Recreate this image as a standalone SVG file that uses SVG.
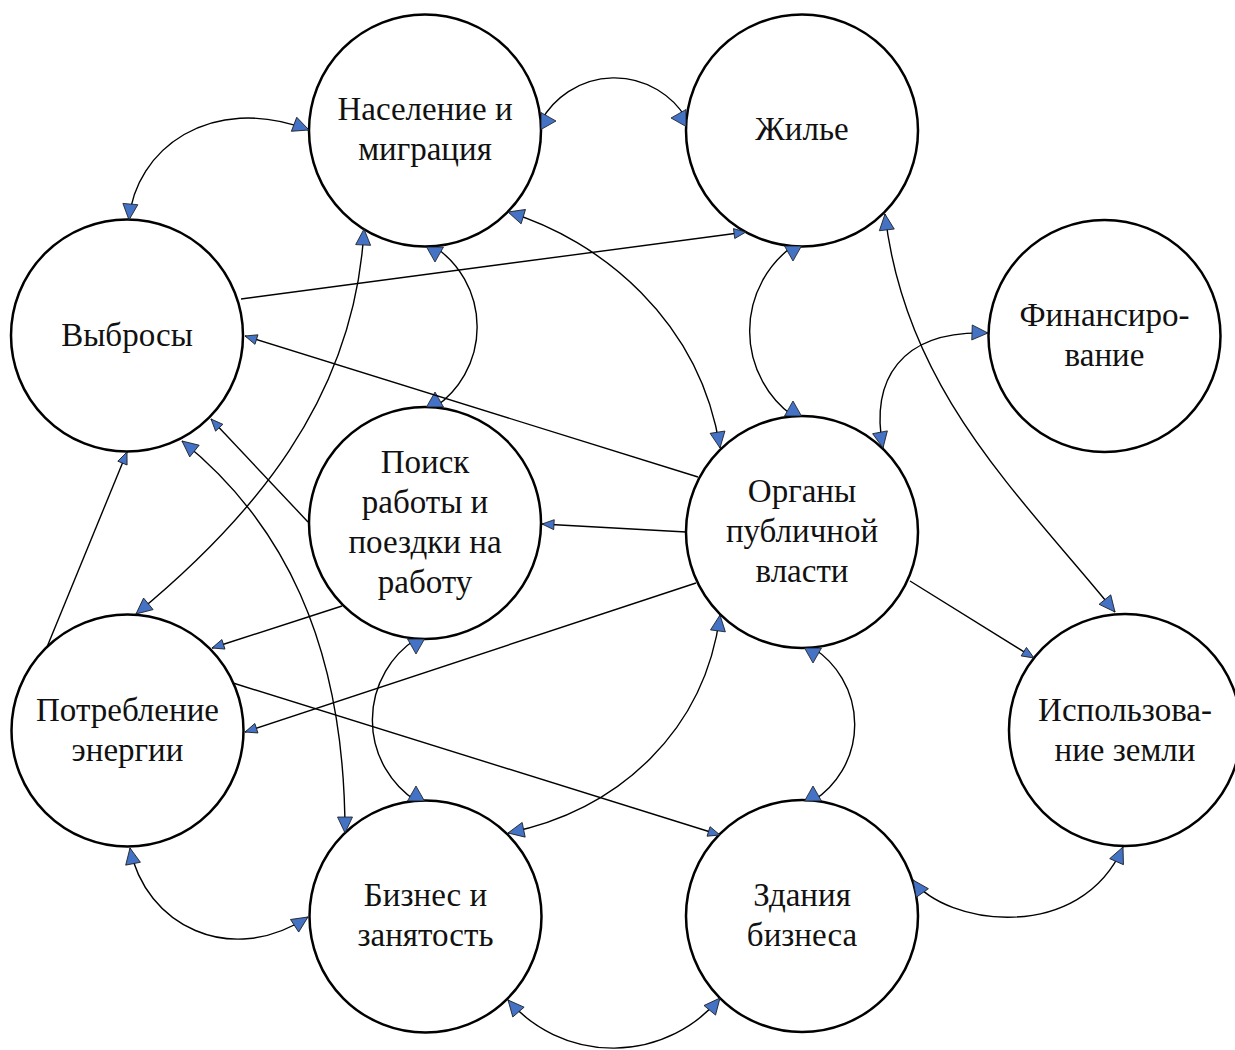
<svg xmlns="http://www.w3.org/2000/svg" width="1235" height="1050" viewBox="0 0 1235 1050">
<defs>
<style>
.node{fill:#fff;stroke:#000;stroke-width:2.5}
.lbl{font-family:"Liberation Serif","Times New Roman",serif;font-size:33px;fill:#111;text-anchor:middle}
.c{fill:none;stroke:#000;stroke-width:1.4}
.big{marker-start:url(#ab);marker-end:url(#ab)}
.sm{marker-end:url(#as)}
.h{marker-start:url(#rR);marker-end:url(#rL)}
.v{marker-start:url(#rD);marker-end:url(#rU)}
.ah{fill:#4472C4;stroke:#1a1a1a;stroke-width:0.8}
</style>
<marker id="ab" markerUnits="userSpaceOnUse" viewBox="0 0 16 15" markerWidth="16" markerHeight="15" refX="16" refY="7.5" orient="auto-start-reverse" overflow="visible"><path class="ah" d="M0,0 L16,7.5 L0,15 z"/></marker>
<marker id="as" markerUnits="userSpaceOnUse" viewBox="0 0 12 10" markerWidth="12" markerHeight="10" refX="12" refY="5" orient="auto" overflow="visible"><path class="ah" d="M0,0 L12,5 L0,10 z"/></marker>
<marker id="rR" markerUnits="userSpaceOnUse" viewBox="0 0 15 17" markerWidth="15" markerHeight="17" refX="0" refY="8.5" orient="0" overflow="visible"><path class="ah" d="M0,0 L15,8.5 L0,17 z"/></marker>
<marker id="rL" markerUnits="userSpaceOnUse" viewBox="0 0 15 17" markerWidth="15" markerHeight="17" refX="0" refY="8.5" orient="180" overflow="visible"><path class="ah" d="M0,0 L15,8.5 L0,17 z"/></marker>
<marker id="rD" markerUnits="userSpaceOnUse" viewBox="0 0 15 17" markerWidth="15" markerHeight="17" refX="0" refY="8.5" orient="90" overflow="visible"><path class="ah" d="M0,0 L15,8.5 L0,17 z"/></marker>
<marker id="rU" markerUnits="userSpaceOnUse" viewBox="0 0 15 17" markerWidth="15" markerHeight="17" refX="0" refY="8.5" orient="270" overflow="visible"><path class="ah" d="M0,0 L15,8.5 L0,17 z"/></marker>
</defs>
<rect width="1235" height="1050" fill="#fff"/>
<g id="node-naselenie"><circle class="node" cx="425" cy="130.5" r="116"/><text class="lbl" x="425" y="120">Население и</text><text class="lbl" x="425" y="160">миграция</text></g>
<g id="node-zhilie"><circle class="node" cx="802" cy="130.5" r="116"/><text class="lbl" x="802" y="140">Жилье</text></g>
<g id="node-vybrosy"><circle class="node" cx="127" cy="335.5" r="116"/><text class="lbl" x="127" y="346">Выбросы</text></g>
<g id="node-finansirovanie"><circle class="node" cx="1104.5" cy="336" r="116"/><text class="lbl" x="1104.5" y="326">Финансиро-</text><text class="lbl" x="1104.5" y="366">вание</text></g>
<g id="node-poisk"><circle class="node" cx="425" cy="523" r="116"/><text class="lbl" x="425" y="473">Поиск</text><text class="lbl" x="425" y="513">работы и</text><text class="lbl" x="425" y="553">поездки на</text><text class="lbl" x="425" y="593">работу</text></g>
<g id="node-organy"><circle class="node" cx="802" cy="532" r="116"/><text class="lbl" x="802" y="502">Органы</text><text class="lbl" x="802" y="542">публичной</text><text class="lbl" x="802" y="582">власти</text></g>
<g id="node-potreblenie"><circle class="node" cx="127.5" cy="730.5" r="116"/><text class="lbl" x="127.5" y="721">Потребление</text><text class="lbl" x="127.5" y="761">энергии</text></g>
<g id="node-zemlya"><circle class="node" cx="1125" cy="730" r="116"/><text class="lbl" x="1125" y="721">Использова-</text><text class="lbl" x="1125" y="761">ние земли</text></g>
<g id="node-biznes"><circle class="node" cx="425.5" cy="916.5" r="116"/><text class="lbl" x="425.5" y="906">Бизнес и</text><text class="lbl" x="425.5" y="946">занятость</text></g>
<g id="node-zdaniya"><circle class="node" cx="802" cy="916" r="116"/><text class="lbl" x="802" y="906">Здания</text><text class="lbl" x="802" y="946">бизнеса</text></g>
<g id="connectors">
<path class="c big" d="M129,220 C135,150 210,92 309,130"/>
<path class="c h" d="M541,121 A84,84 0 0 1 686,118"/>
<path class="c sm" d="M241,299 L746,232"/>
<path class="c big" d="M508,212 C600,240 700,320 720,448"/>
<path class="c v" d="M435,247 A97,97 0 0 1 435,407"/>
<path class="c big" d="M364,229 C355,400 250,520 136,614"/>
<path class="c sm" d="M698,477 L245,336"/>
<path class="c v" d="M793,246 A105,105 0 0 0 793,416"/>
<path class="c big" d="M883,448 C870,380 900,330 988,333"/>
<path class="c big" d="M885,214 C905,390 1020,495 1115,612"/>
<path class="c sm" d="M686,532 L542,524"/>
<path class="c sm" d="M308,522 L211,419"/>
<path class="c big" d="M182,441 C280,520 345,640 345,833"/>
<path class="c sm" d="M47,647 L127,452"/>
<path class="c sm" d="M342,606 L212,648"/>
<path class="c sm" d="M696,583 L245,732"/>
<path class="c sm" d="M233,683 L720,835"/>
<path class="c v" d="M416,639 A97,97 0 0 0 416,801"/>
<path class="c big" d="M720,615 C705,730 620,810 508,833"/>
<path class="c v" d="M813,648 A91,91 0 0 1 813,801"/>
<path class="c sm" d="M910,581 L1034,658"/>
<path class="c big" d="M130,848 C145,925 230,968 308,917"/>
<path class="c big" d="M508,1000 A139,139 0 0 0 720,998"/>
<path class="c big" d="M913,880 C945,925 1080,945 1123,847"/>
</g>
</svg>
